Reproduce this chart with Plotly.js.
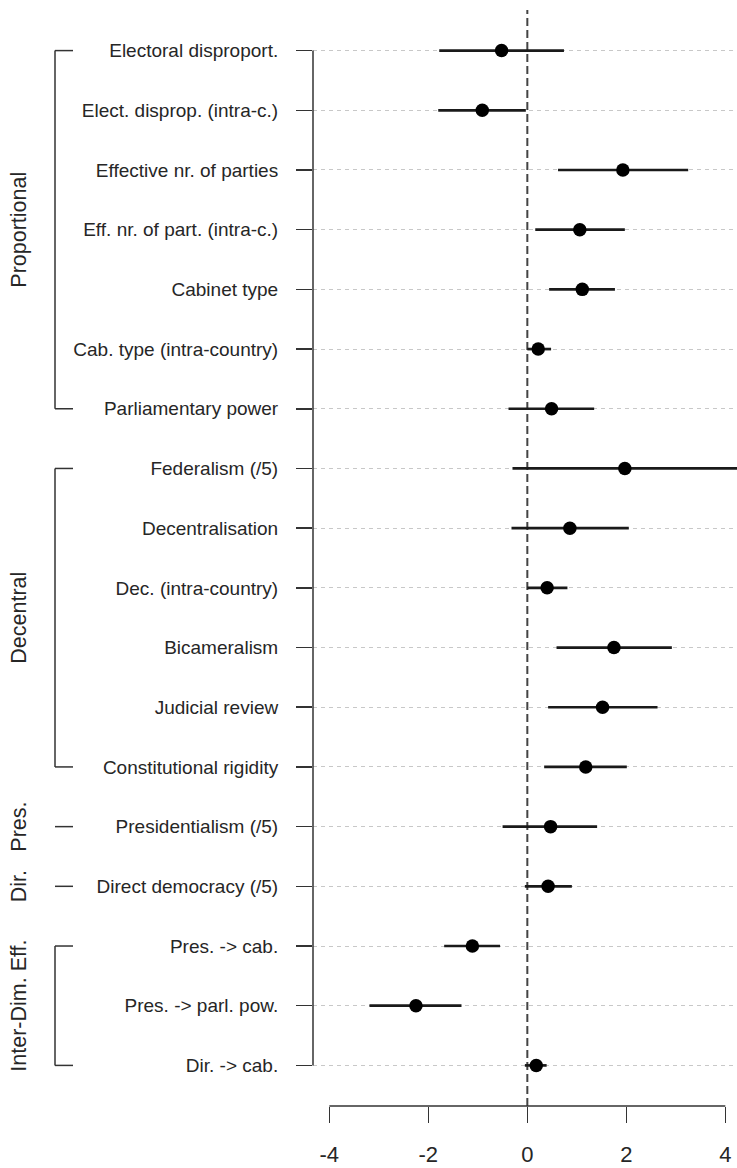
<!DOCTYPE html>
<html>
<head>
<meta charset="utf-8">
<script src="https://cdn.plot.ly/plotly-3.0.1.min.js"></script>
<style>html,body{margin:0;padding:0;background:#fff;}#chart{width:737px;height:1168px;}</style>
</head>
<body>
<div id="chart"></div>
<script>
// ---- data ----
const labels = [
  "Electoral disproport.", "Elect. disprop. (intra-c.)", "Effective nr. of parties",
  "Eff. nr. of part. (intra-c.)", "Cabinet type", "Cab. type (intra-country)",
  "Parliamentary power", "Federalism (/5)", "Decentralisation", "Dec. (intra-country)",
  "Bicameralism", "Judicial review", "Constitutional rigidity", "Presidentialism (/5)",
  "Direct democracy (/5)", "Pres. -> cab.", "Pres. -> parl. pow.", "Dir. -> cab."
];
const estimate = [-0.52, -0.91, 1.93, 1.06, 1.11, 0.22, 0.49, 1.97, 0.86, 0.40, 1.75, 1.52, 1.18, 0.47, 0.42, -1.11, -2.25, 0.18];
const lower    = [-1.78, -1.80, 0.62, 0.16, 0.44, 0.00, -0.38, -0.30, -0.32, 0.00, 0.59, 0.42, 0.34, -0.50, -0.05, -1.68, -3.19, -0.05];
const upper    = [0.74, -0.03, 3.25, 1.97, 1.77, 0.48, 1.35, 4.40, 2.05, 0.81, 2.92, 2.63, 2.01, 1.41, 0.90, -0.55, -1.33, 0.39];
const groupNames = ["Proportional", "Decentral", "Pres.", "Dir.", "Inter-Dim. Eff."];
const groupStart = [1, 8, 14, 15, 16];
const groupEnd   = [7, 13, 14, 15, 18];
const xTicks = [-4, -2, 0, 2, 4];

// ---- build ----
const rows = labels.map((_, i) => i + 1);
const lx = [], ly = [];
rows.forEach((r, i) => { lx.push(lower[i], upper[i], null); ly.push(r, r, null); });

const FONT = "Liberation Sans, Arial, sans-serif";
const TXT = "#262626";
const W = 737, H = 1168, L = 313, R = 0, T = 10, B = 62;
const plotW = W - L - R;
const px = p => (p - L) / plotW;

const traces = [
  {x: lx, y: ly, type: "scatter", mode: "lines", line: {color: "#1a1a1a", width: 2.7}, hoverinfo: "skip", showlegend: false},
  {x: estimate, y: rows, type: "scatter", mode: "markers", marker: {color: "#000", size: 13.5}, showlegend: false}
];

const shapes = [
  {type: "line", xref: "x", yref: "paper", x0: 0, x1: 0, y0: 0, y1: 1, line: {color: "#444", width: 2, dash: "8px,4px"}, layer: "below"},
  {type: "line", xref: "paper", yref: "y", x0: 0, x1: 0, y0: rows[0], y1: rows[rows.length - 1], line: {color: "#333", width: 1.5}},
  {type: "line", xref: "x", yref: "paper", x0: xTicks[0], x1: xTicks[xTicks.length - 1], y0: 0, y1: 0, line: {color: "#333", width: 1.5}}
];
const annotations = [];
groupNames.forEach((g, k) => {
  const a = groupStart[k], b = groupEnd[k];
  if (a !== b) {
    shapes.push({type: "line", xref: "paper", yref: "y", x0: px(55), x1: px(55), y0: a, y1: b, line: {color: "#333", width: 1.5}});
  }
  shapes.push({type: "line", xref: "paper", yref: "y", x0: px(55), x1: px(73), y0: a, y1: a, line: {color: "#333", width: 1.5}});
  if (a !== b) shapes.push({type: "line", xref: "paper", yref: "y", x0: px(55), x1: px(73), y0: b, y1: b, line: {color: "#333", width: 1.5}});
  annotations.push({text: g, xref: "paper", yref: "y", x: px(19), y: (a + b) / 2, textangle: -90, showarrow: false,
    xanchor: "center", yanchor: "middle", font: {family: FONT, size: 21.5, color: TXT}});
});

const layout = {
  width: W, height: H,
  margin: {l: L, r: R, t: T, b: B, pad: 0},
  paper_bgcolor: "#fff", plot_bgcolor: "#fff",
  xaxis: {range: [-4.33, 4.236], tickvals: xTicks, ticktext: xTicks.map(String), ticks: "outside", ticklen: 16, tickwidth: 1.5,
    tickcolor: "#333", showline: false, showgrid: false, zeroline: false, ticklabelstandoff: 13,
    tickfont: {family: FONT, size: 22, color: TXT}, fixedrange: true},
  yaxis: {range: [18.68, 0.32], tickvals: rows, ticktext: labels, ticks: "outside", ticklen: 16, tickwidth: 1.5,
    tickcolor: "#333", showline: false, showgrid: true, gridcolor: "#c8c8c8", gridwidth: 1, griddash: "4px,4px",
    zeroline: false, ticklabelstandoff: 14, tickfont: {family: FONT, size: 19, color: TXT}, fixedrange: true},
  shapes: shapes,
  annotations: annotations,
  showlegend: false
};

Plotly.newPlot("chart", traces, layout, {displayModeBar: false, staticPlot: true});
</script>
</body>
</html>
